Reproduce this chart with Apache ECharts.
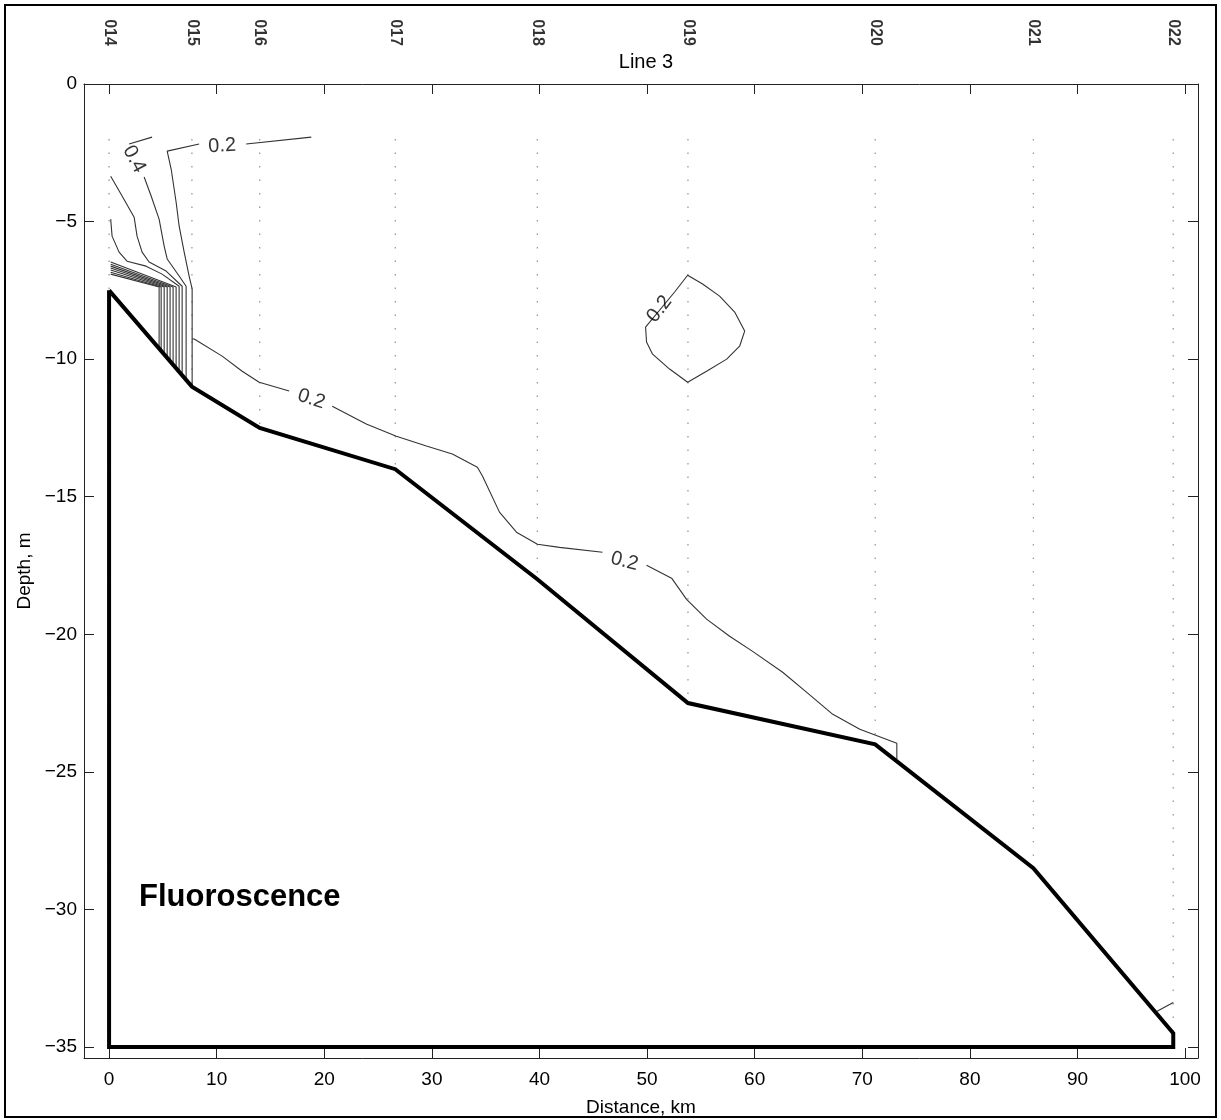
<!DOCTYPE html>
<html>
<head>
<meta charset="utf-8">
<title>Fluoroscence - Line 3</title>
<script src="https://cdn.jsdelivr.net/npm/echarts@6.0.0/dist/echarts.min.js"></script>
<style>
    html, body { margin: 0; padding: 0; background: #fff; }
    #main { width: 1221px; height: 1120px; }
</style>
</head>
<body>
<div id="main"></div>
<script>
// stations along the line: name, distance (km) and bottom depth (m)
var stationNames = ['014', '015', '016', '017', '018', '019', '020', '021', '022'];
var stationKm = [0, 7.7, 14.0, 26.6, 39.8, 53.8, 71.2, 85.9, 98.9];
var stationBottom = [-7.5, -11.0, -12.5, -14.0, -18.0, -22.5, -24.0, -28.5, -34.5];
var sampleTop = -2;

// closing the bottom outline
var closeKm = [98.9, 0, 0];
var closeDepth = [-35, -35, -7.5];

// tick labels
var xTickValues = [0, 10, 20, 30, 40, 50, 60, 70, 80, 90, 100];
var yTickValues = [-35, -30, -25, -20, -15, -10, -5, 0];

// contour lines, [km, depth]
var c02Top = [[12.74, -2.18], [18.79, -1.93]];
var c02Main = [[8.37, -2.18], [5.40, -2.44], [5.77, -3.09], [6.23, -4.29], [6.51, -5.16], [6.98, -6.11],
    [7.44, -6.98], [7.72, -7.45], [7.72, -9.27], [7.91, -9.27], [10.51, -9.89], [12.37, -10.44],
    [13.95, -10.84], [16.74, -11.16]];
var c02Mid = [[20.74, -11.71], [23.9, -12.36], [26.7, -12.8], [29.49, -13.16], [31.9, -13.45],
    [34.23, -13.93], [34.7, -14.25], [36.28, -15.56], [37.86, -16.29], [39.81, -16.73],
    [41.86, -16.84], [45.86, -17.02]];
var c02Deep = [[49.95, -17.49], [52.28, -17.96], [53.67, -18.73], [55.53, -19.45], [57.67, -20.07],
    [59.81, -20.62], [62.6, -21.38], [64.84, -22.11], [67.26, -22.91], [69.77, -23.45],
    [73.21, -23.96], [73.21, -24.55]];
var c02Patch = [[52.56, -7.56], [53.77, -6.95], [55.16, -7.27], [56.74, -7.71], [58.14, -8.29],
    [59.07, -8.98], [58.6, -9.53], [57.4, -10.0], [55.53, -10.44], [53.77, -10.84], [52.09, -10.36],
    [50.51, -9.82], [49.95, -9.38], [49.86, -8.84]];
var c02Corner = [[97.4, -33.7], [98.9, -33.38]];
var c04Top = [[4.0, -1.93], [1.86, -2.18]];
var c04 = [[3.26, -3.38], [3.91, -4.07], [4.65, -4.91], [5.12, -5.89], [5.40, -6.36], [6.51, -6.98],
    [7.16, -7.35], [7.16, -10.75]];
var c06 = [[0.15, -3.35], [1.21, -4.07], [2.33, -4.84], [2.60, -5.53], [3.07, -6.11], [3.72, -6.47],
    [5.30, -6.80], [6.79, -7.35], [6.79, -10.59]];
var c08 = [[0.15, -4.91], [0.28, -5.53], [0.93, -6.11], [1.67, -6.44], [3.44, -6.62], [4.93, -6.91],
    [6.51, -7.35], [6.51, -10.46]];
var cBundle = [
    [[0.15, -6.47], [6.23, -7.38], [6.23, -10.33]],
    [[0.15, -6.55], [5.95, -7.38], [5.95, -10.20]],
    [[0.15, -6.62], [5.67, -7.38], [5.67, -10.08]],
    [[0.15, -6.69], [5.40, -7.38], [5.40, -9.95]],
    [[0.15, -6.76], [5.12, -7.38], [5.12, -9.83]],
    [[0.15, -6.84], [4.84, -7.38], [4.84, -9.70]],
    [[0.15, -6.91], [4.65, -7.38], [4.65, -9.61]],
    [[7.72, -9.27], [7.72, -11.0]]
];

// contour labels
var labelPos = [[10.51, -2.25], [2.33, -2.73], [18.8, -11.45], [47.9, -17.35], [51.16, -8.18]];
var labelText = ['0.2', '0.4', '0.2', '0.2', '0.2'];
var labelAngle = [3, -62, -18, -14, 52];

var FONT = '"Liberation Sans", Arial, Helvetica, sans-serif';

var myChart = echarts.init(document.getElementById('main'));

var series = [];

// sample positions at each station
stationKm.forEach(function (km, i) {
    series.push({
        type: 'line',
        data: [[km, sampleTop], [km, stationBottom[i]]],
        showSymbol: false,
        silent: true,
        lineStyle: { color: '#999', width: 1.3, type: [1.5, 12] },
        z: 1
    });
});

var contours = [c02Top, c02Main, c02Mid, c02Deep, c02Patch.concat([c02Patch[0]]), c02Corner,
    c04Top, c04, c06, c08].concat(cBundle);
contours.forEach(function (c) {
    series.push({
        type: 'line',
        data: c,
        showSymbol: false,
        silent: true,
        lineStyle: { color: '#333', width: 1.1 },
        z: 2
    });
});

// bottom outline
var bathy = stationKm.map(function (km, i) { return [km, stationBottom[i]]; });
closeKm.forEach(function (km, i) { bathy.push([km, closeDepth[i]]); });
series.push({
    type: 'line',
    data: bathy,
    showSymbol: false,
    silent: true,
    lineStyle: { color: '#000', width: 4, join: 'miter' },
    z: 3
});

// contour labels
series.push({
    type: 'scatter',
    symbolSize: 1,
    itemStyle: { color: 'rgba(0,0,0,0)' },
    silent: true,
    data: labelPos.map(function (p, i) {
        return {
            value: p,
            label: {
                show: true,
                position: 'inside',
                formatter: labelText[i],
                rotate: labelAngle[i],
                fontSize: 20,
                color: '#000',
                fontFamily: FONT
            }
        };
    }),
    z: 4
});

// station names above the frame
series.push({
    type: 'scatter',
    symbolSize: 1,
    clip: false,
    itemStyle: { color: 'rgba(0,0,0,0)' },
    silent: true,
    data: stationKm.map(function (km, i) {
        return { value: [km, 1.87], name: stationNames[i] };
    }),
    label: {
        show: true,
        position: 'inside',
        formatter: '{b}',
        rotate: -90,
        fontSize: 16,
        fontWeight: 'bold',
        color: '#000',
        fontFamily: FONT
    },
    z: 4
});

var axisLine = { show: true, onZero: false, lineStyle: { color: '#222', width: 1 } };
var axisTickX = { show: true, inside: true, length: 10, customValues: xTickValues, lineStyle: { color: '#222' } };
var axisTickY = { show: true, inside: true, length: 10, customValues: yTickValues, lineStyle: { color: '#222' } };

option = {
    animation: false,
    backgroundColor: '#fff',
    title: {
        text: 'Line 3',
        left: 641,
        textAlign: 'center',
        top: 47,
        textStyle: { fontSize: 20, fontWeight: 'normal', color: '#000', fontFamily: FONT }
    },
    grid: { left: 84, top: 84, width: 1114, height: 974, outerBoundsMode: 'none', containLabel: false },
    xAxis: [{
        type: 'value',
        position: 'bottom',
        min: -2.33,
        max: 101.2,
        axisLine: axisLine,
        axisTick: axisTickX,
        axisLabel: {
            customValues: xTickValues,
            fontSize: 19, color: '#000', margin: 12, fontFamily: FONT
        },
        splitLine: { show: false },
        name: 'Distance, km',
        nameLocation: 'middle',
        nameGap: 40,
        nameTextStyle: { fontSize: 19, color: '#000', fontFamily: FONT }
    }, {
        type: 'value',
        position: 'top',
        min: -2.33,
        max: 101.2,
        axisLine: axisLine,
        axisTick: axisTickX,
        axisLabel: { show: false },
        splitLine: { show: false }
    }],
    yAxis: [{
        type: 'value',
        position: 'left',
        min: -35.4,
        max: 0,
        axisLine: axisLine,
        axisTick: axisTickY,
        axisLabel: {
            customValues: yTickValues,
            fontSize: 19, color: '#000', margin: 7, fontFamily: FONT,
            formatter: function (v) { return String(v).replace('-', '\u2212'); }
        },
        splitLine: { show: false },
        name: 'Depth, m',
        nameLocation: 'middle',
        nameGap: 50,
        nameTextStyle: { fontSize: 19, color: '#000', fontFamily: FONT }
    }, {
        type: 'value',
        position: 'right',
        min: -35.4,
        max: 0,
        axisLine: axisLine,
        axisTick: axisTickY,
        axisLabel: { show: false },
        splitLine: { show: false }
    }],
    graphic: [{
        type: 'rect',
        shape: { x: 5, y: 5, width: 1211, height: 1112 },
        style: { fill: 'none', stroke: '#000', lineWidth: 2 },
        silent: true
    }, {
        type: 'text',
        left: 139,
        top: 882,
        style: { text: 'Fluoroscence', fontSize: 31, fontWeight: 'bold', fill: '#000', fontFamily: FONT },
        silent: true
    }],
    series: series
};

myChart.setOption(option);
</script>
</body>
</html>
